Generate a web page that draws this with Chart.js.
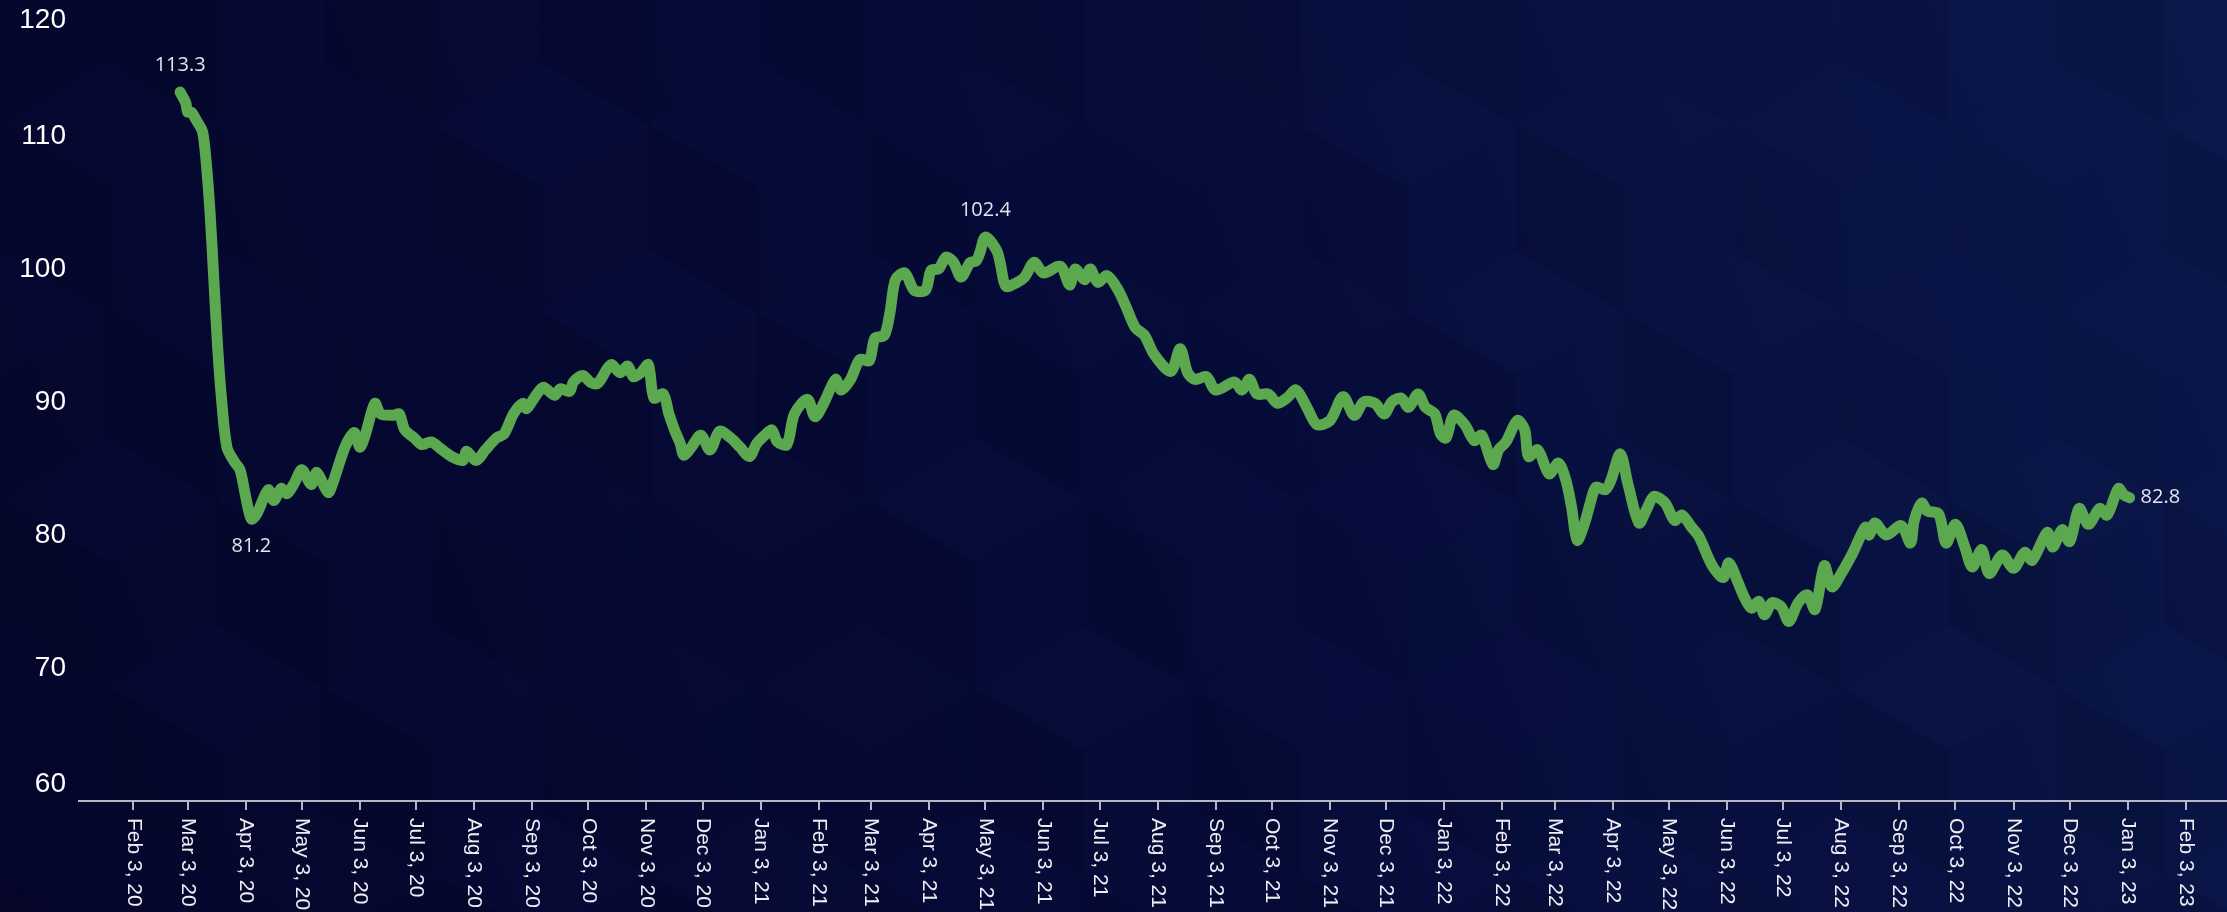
<!DOCTYPE html>
<html>
<head>
<meta charset="utf-8">
<title>Index</title>
<script src="https://cdn.jsdelivr.net/npm/chart.js@4.4.1/dist/chart.umd.min.js"></script>
<style>
  html, body { margin: 0; padding: 0; background: #070b38; overflow: hidden; }
  #wrap { width: 2227px; height: 912px; position: relative; }
</style>
</head>
<body>
<div id="wrap"><canvas id="indexChart"></canvas></div>
<script>
// data
const dates = [
  '2020-02-28','2020-03-02','2020-03-03','2020-03-05','2020-03-08','2020-03-11','2020-03-13','2020-03-15','2020-03-17','2020-03-19',
  '2020-03-21','2020-03-24','2020-03-28','2020-03-31','2020-04-03','2020-04-06','2020-04-09','2020-04-15','2020-04-18','2020-04-22',
  '2020-04-25','2020-04-29','2020-05-03','2020-05-08','2020-05-11','2020-05-17','2020-05-20','2020-05-26','2020-05-31','2020-06-03',
  '2020-06-06','2020-06-11','2020-06-14','2020-06-21','2020-06-24','2020-06-27','2020-07-02','2020-07-06','2020-07-11','2020-07-16',
  '2020-07-22','2020-07-28','2020-07-30','2020-08-04','2020-08-09','2020-08-15','2020-08-19','2020-08-24','2020-08-29','2020-08-31',
  '2020-09-05','2020-09-09','2020-09-15','2020-09-18','2020-09-23','2020-09-25','2020-09-30','2020-10-04','2020-10-08','2020-10-15',
  '2020-10-20','2020-10-24','2020-10-27','2020-10-31','2020-11-04','2020-11-07','2020-11-12','2020-11-15','2020-11-18','2020-11-21',
  '2020-11-23','2020-11-27','2020-12-02','2020-12-07','2020-12-12','2020-12-18','2020-12-23','2020-12-28','2021-01-01','2021-01-06',
  '2021-01-09','2021-01-12','2021-01-17','2021-01-21','2021-01-28','2021-02-01','2021-02-06','2021-02-12','2021-02-15','2021-02-20',
  '2021-02-25','2021-03-02','2021-03-05','2021-03-10','2021-03-13','2021-03-16','2021-03-21','2021-03-26','2021-04-01','2021-04-04',
  '2021-04-08','2021-04-12','2021-04-16','2021-04-20','2021-04-25','2021-04-28','2021-04-30','2021-05-03','2021-05-09','2021-05-11',
  '2021-05-14','2021-05-20','2021-05-24','2021-05-29','2021-06-03','2021-06-12','2021-06-17','2021-06-20','2021-06-25','2021-06-28',
  '2021-07-02','2021-07-07','2021-07-13','2021-07-17','2021-07-22','2021-07-27','2021-08-01','2021-08-10','2021-08-15','2021-08-19',
  '2021-08-23','2021-08-29','2021-09-03','2021-09-13','2021-09-17','2021-09-21','2021-09-25','2021-10-01','2021-10-06','2021-10-11',
  '2021-10-16','2021-10-22','2021-10-27','2021-11-03','2021-11-10','2021-11-16','2021-11-21','2021-11-27','2021-12-02','2021-12-06',
  '2021-12-11','2021-12-15','2021-12-20','2021-12-24','2021-12-29','2022-01-01','2022-01-04','2022-01-08','2022-01-14','2022-01-19',
  '2022-01-23','2022-01-29','2022-02-01','2022-02-05','2022-02-11','2022-02-15','2022-02-17','2022-02-22','2022-02-28','2022-03-05',
  '2022-03-09','2022-03-12','2022-03-15','2022-03-19','2022-03-22','2022-03-25','2022-03-30','2022-04-02','2022-04-07','2022-04-11',
  '2022-04-17','2022-04-21','2022-04-25','2022-05-01','2022-05-06','2022-05-10','2022-05-15','2022-05-19','2022-05-24','2022-05-27',
  '2022-06-01','2022-06-04','2022-06-09','2022-06-12','2022-06-16','2022-06-20','2022-06-23','2022-06-27','2022-07-02','2022-07-06',
  '2022-07-11','2022-07-16','2022-07-20','2022-07-25','2022-07-29','2022-08-03','2022-08-09','2022-08-16','2022-08-18','2022-08-21',
  '2022-08-27','2022-09-04','2022-09-09','2022-09-11','2022-09-15','2022-09-18','2022-09-24','2022-09-28','2022-10-03','2022-10-08',
  '2022-10-12','2022-10-17','2022-10-21','2022-10-28','2022-11-03','2022-11-09','2022-11-13','2022-11-21','2022-11-24','2022-11-29',
  '2022-12-03','2022-12-08','2022-12-13','2022-12-19','2022-12-23','2022-12-29','2023-01-01','2023-01-04'
];
const values = [
  113.3,112.5,111.8,111.8,111.1,110.3,107.9,104.2,99.2,94.2,
  90.4,86.6,85.5,84.9,82.9,81.2,81.6,83.4,82.6,83.5,
  83.1,83.9,84.9,83.8,84.7,83.2,84.1,86.6,87.7,86.6,
  87.6,89.9,89.1,89.0,89.1,87.9,87.3,86.8,87.0,86.5,
  85.9,85.6,86.3,85.6,86.4,87.3,87.6,89.1,89.9,89.5,
  90.5,91.1,90.5,91.0,90.8,91.5,92.0,91.5,91.4,92.8,
  92.2,92.7,91.9,92.2,92.8,90.3,90.6,89.1,87.9,86.9,
  86.0,86.6,87.5,86.4,87.8,87.3,86.6,85.9,86.9,87.6,
  87.9,87.0,86.8,89.1,90.2,88.9,90.0,91.7,90.9,91.7,
  93.2,93.1,94.8,95.0,96.7,99.2,99.7,98.4,98.4,99.9,
  100.0,100.9,100.5,99.4,100.5,100.6,101.2,102.4,101.4,100.4,
  98.7,99.0,99.4,100.5,99.7,100.2,98.8,100.0,99.2,100.0,
  99.0,99.5,98.4,97.2,95.6,95.0,93.6,92.3,94.0,92.2,
  91.7,91.9,90.9,91.5,90.9,91.7,90.6,90.6,89.9,90.3,
  90.9,89.5,88.3,88.6,90.4,89.0,90.0,89.9,89.1,90.0,
  90.3,89.6,90.6,89.6,89.1,87.6,87.3,89.0,88.3,87.1,
  87.5,85.3,86.4,87.0,88.6,87.9,85.9,86.4,84.6,85.4,
  84.1,82.1,79.6,80.9,82.4,83.6,83.4,84.1,86.1,83.9,
  80.9,81.9,82.9,82.4,81.1,81.5,80.6,79.9,78.3,77.5,
  76.8,77.9,76.4,75.4,74.5,75.0,74.0,74.9,74.6,73.5,
  74.9,75.5,74.4,77.7,76.1,77.1,78.6,80.6,80.0,80.9,
  80.0,80.7,79.4,81.1,82.4,81.8,81.6,79.4,80.8,79.1,
  77.6,78.9,77.1,78.5,77.5,78.7,78.1,80.2,79.1,80.4,
  79.5,82.0,80.8,82.0,81.5,83.5,83.0,82.8
];
const tickDates = [
  '2020-02-03','2020-03-03','2020-04-03','2020-05-03','2020-06-03','2020-07-03','2020-08-03','2020-09-03','2020-10-03','2020-11-03','2020-12-03',
  '2021-01-03','2021-02-03','2021-03-03','2021-04-03','2021-05-03','2021-06-03','2021-07-03','2021-08-03','2021-09-03','2021-10-03','2021-11-03','2021-12-03',
  '2022-01-03','2022-02-03','2022-03-03','2022-04-03','2022-05-03','2022-06-03','2022-07-03','2022-08-03','2022-09-03','2022-10-03','2022-11-03','2022-12-03',
  '2023-01-03','2023-02-03'
];
const tickLabels = [
  'Feb 3, 20','Mar 3, 20','Apr 3, 20','May 3, 20','Jun 3, 20','Jul 3, 20','Aug 3, 20','Sep 3, 20','Oct 3, 20','Nov 3, 20','Dec 3, 20',
  'Jan 3, 21','Feb 3, 21','Mar 3, 21','Apr 3, 21','May 3, 21','Jun 3, 21','Jul 3, 21','Aug 3, 21','Sep 3, 21','Oct 3, 21','Nov 3, 21','Dec 3, 21',
  'Jan 3, 22','Feb 3, 22','Mar 3, 22','Apr 3, 22','May 3, 22','Jun 3, 22','Jul 3, 22','Aug 3, 22','Sep 3, 22','Oct 3, 22','Nov 3, 22','Dec 3, 22',
  'Jan 3, 23','Feb 3, 23'
];
const yTicks = [60, 70, 80, 90, 100, 110, 120];
const calloutDates = ['2020-02-28', '2020-04-06', '2021-05-03', '2023-01-04'];

const toDay = s => Date.parse(s + 'T00:00:00Z') / 86400000;
const tickDays = tickDates.map(toDay);

// where each value label sits relative to its point
const calloutPlace = { '2020-02-28': 'above', '2020-04-06': 'below', '2021-05-03': 'above', '2023-01-04': 'right' };

const backdrop = {
  id: 'backdrop',
  beforeDraw(chart) {
    const { ctx, width, height } = chart;
    ctx.save();
    const g = ctx.createLinearGradient(0, height, width, 0);
    g.addColorStop(0, '#05062a');
    g.addColorStop(0.5, '#060b37');
    g.addColorStop(1, '#0a1849');
    ctx.fillStyle = g;
    ctx.fillRect(0, 0, width, height);

    // faint cube tiling like the original background
    const r = 125, w = Math.sqrt(3) * r;
    const vx = a => Math.cos(a * Math.PI / 180) * r;
    const vy = a => Math.sin(a * Math.PI / 180) * r;
    for (let row = -1; row * 1.5 * r < height + r; row++) {
      for (let col = -1; col * w < width + w; col++) {
        const cx = col * w + (row % 2 ? w / 2 : 0);
        const cy = row * 1.5 * r;
        const k = ((row * 5 + col * 3) % 4 + 4) % 4;
        const faces = [
          [[-150, -90, -30], 'rgba(90,120,255,' + (0.006 + k * 0.004) + ')'],
          [[-150, 150, 90], 'rgba(0,0,20,' + (0.04 + k * 0.015) + ')'],
          [[-30, 30, 90], 'rgba(60,90,200,' + (0.004 + k * 0.003) + ')']
        ];
        faces.forEach(([a, col2]) => {
          ctx.beginPath();
          ctx.moveTo(cx, cy);
          a.forEach(ang => ctx.lineTo(cx + vx(ang), cy + vy(ang)));
          ctx.closePath();
          ctx.fillStyle = col2;
          ctx.fill();
        });
      }
    }
    ctx.restore();
  }
};

const texts = {
  id: 'texts',
  afterDraw(chart) {
    const { ctx } = chart;
    const xs = chart.scales.x;
    ctx.save();
    // x tick labels, turned to read top to bottom
    ctx.fillStyle = '#eeeef4';
    ctx.font = '21px "Liberation Sans", Arial, sans-serif';
    ctx.textAlign = 'left';
    ctx.textBaseline = 'middle';
    tickDays.forEach((d, i) => {
      ctx.save();
      ctx.translate(xs.getPixelForValue(d), xs.top + 17);
      ctx.rotate(Math.PI / 2);
      ctx.fillText(tickLabels[i], 0, 0);
      ctx.restore();
    });

    // value labels
    const meta = chart.getDatasetMeta(0);
    ctx.fillStyle = '#e4e4ee';
    ctx.font = '20px "Open Sans", sans-serif';
    calloutDates.forEach(d => {
      const i = dates.indexOf(d);
      const pt = meta.data[i];
      const txt = values[i].toFixed(1);
      const place = calloutPlace[d];
      if (place === 'right') {
        ctx.textAlign = 'left';
        ctx.fillText(txt, pt.x + 11, pt.y);
      } else {
        ctx.textAlign = 'center';
        ctx.fillText(txt, pt.x, place === 'above' ? pt.y - 27 : pt.y + 27);
      }
    });
    ctx.restore();
  }
};

const ctx = document.getElementById('indexChart').getContext('2d');
new Chart(ctx, {
  type: 'line',
  data: {
    datasets: [{
      data: dates.map((d, i) => ({ x: toDay(d), y: values[i] })),
      borderColor: '#5ca84f',
      borderWidth: 11,
      borderJoinStyle: 'round',
      borderCapStyle: 'round',
      pointRadius: 0,
      tension: 0.3,
      fill: false
    }]
  },
  options: {
    responsive: true,
    maintainAspectRatio: false,
    animation: false,
    events: [],
    layout: { padding: { top: 3, right: 0, bottom: 0, left: 0 } },
    plugins: {
      legend: { display: false },
      tooltip: { enabled: false }
    },
    scales: {
      x: {
        type: 'linear',
        min: toDay('2020-01-05'),
        max: toDay('2023-02-25'),
        afterBuildTicks: s => { s.ticks = tickDays.map(v => ({ value: v })); },
        afterFit: s => { s.height = 111; s.paddingLeft = 0; s.paddingRight = 0; },
        ticks: { display: false, autoSkip: false },
        grid: { display: true, drawOnChartArea: false, drawTicks: true, tickLength: 9, color: '#b6b6c4', lineWidth: 2 },
        border: { display: true, color: '#b6b6c4', width: 2 }
      },
      y: {
        min: 60,
        max: 120,
        afterBuildTicks: s => { s.ticks = yTicks.map(v => ({ value: v })); },
        afterFit: s => { s.width = 79; s.paddingTop = 0; s.paddingBottom = 0; },
        ticks: {
          color: '#ffffff',
          padding: 13,
          font: { family: '"Liberation Sans", Arial, sans-serif', size: 28 },
          callback: v => {
            // keep the end labels inside the plot like the original
            if (v === yTicks[yTicks.length - 1]) return ['', String(v)];
            if (v === yTicks[0]) return [String(v), ''];
            return String(v);
          }
        },
        grid: { display: false, drawTicks: false },
        border: { display: false }
      }
    }
  },
  plugins: [backdrop, texts]
});
</script>
</body>
</html>
